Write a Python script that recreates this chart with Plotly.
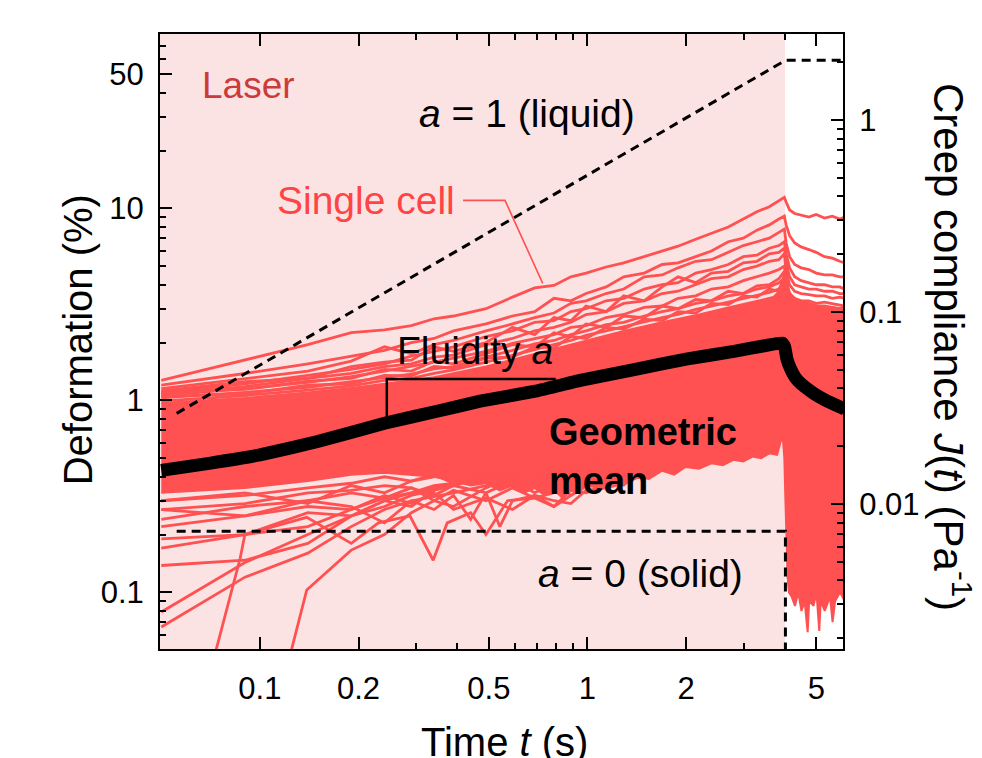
import plotly.graph_objects as go

# ---------------- data ----------------
# common time grid for the upper single-cell traces (s)
cell_t = [0.05, 0.09, 0.14, 0.19, 0.24, 0.29, 0.34, 0.39, 0.49, 0.59, 0.69, 0.79, 0.89, 0.99,
          1.14, 1.29, 1.49, 1.69, 1.89, 2.14, 2.39, 2.69, 2.99, 3.29, 3.59, 3.84, 3.99, 4.04,
          4.14, 4.29, 4.49, 4.74, 4.99, 5.29, 5.59, 5.89, 6.09]
cell_a = [1.27, 1.62, 1.95, 2.25, 2.33, 2.45, 2.66, 2.75, 3.0, 3.45, 3.85, 3.97, 4.4, 4.6,
          4.95, 5.2, 5.6, 6.0, 6.35, 6.9, 7.4, 8.0, 8.8, 9.6, 10.2, 11.0, 11.4, 10.8,
          9.8, 9.4, 9.2, 9.0, 9.3, 8.9, 9.1, 8.8, 9.0]
cell_b = [1.2, 1.38, 1.55, 1.7, 1.82, 2.0, 2.1, 2.3, 2.5, 2.75, 2.9, 3.4, 3.3, 3.6,
          3.9, 4.4, 4.6, 5.1, 5.2, 5.6, 6.0, 6.7, 7.0, 7.7, 8.2, 8.8, 9.1, 8.2,
          7.2, 6.6, 6.3, 6.1, 5.9, 5.6, 5.5, 5.3, 5.2]
cell_c = [1.15, 1.3, 1.42, 1.6, 1.9, 1.75, 1.95, 2.05, 2.3, 2.5, 2.7, 2.85, 3.2, 3.3,
          3.6, 3.8, 4.4, 4.5, 4.9, 5.3, 5.4, 5.9, 6.4, 6.7, 7.0, 7.5, 7.8, 6.6,
          5.6, 5.1, 4.9, 4.8, 4.6, 4.5, 4.5, 4.4, 4.4]
cell_d = [1.1, 1.22, 1.35, 1.45, 1.55, 1.7, 1.8, 1.9, 2.15, 2.3, 2.55, 2.6, 2.9, 3.0,
          3.3, 3.4, 3.8, 4.0, 4.1, 4.6, 4.8, 5.1, 5.6, 5.7, 6.2, 6.4, 6.7, 5.8,
          4.9, 4.4, 4.2, 4.1, 4.0, 4.0, 3.9, 3.9, 3.8]
cell_e = [1.08, 1.18, 1.3, 1.38, 1.5, 1.55, 1.68, 1.72, 1.95, 2.1, 2.3, 2.4, 2.55, 2.8,
          2.9, 3.2, 3.3, 3.6, 3.7, 4.0, 4.3, 4.4, 4.8, 5.0, 5.3, 5.4, 5.8, 4.7,
          4.0, 3.7, 3.6, 3.55, 3.5, 3.5, 3.4, 3.45, 3.4]
cell_f = [1.06, 1.15, 1.24, 1.33, 1.42, 1.5, 1.58, 1.66, 1.8, 1.98, 2.1, 2.2, 2.4, 2.45,
          2.7, 2.8, 3.05, 3.1, 3.4, 3.5, 3.8, 3.9, 4.2, 4.4, 4.6, 4.8, 5.0, 4.2,
          3.6, 3.4, 3.3, 3.3, 3.2, 3.25, 3.2, 3.15, 3.1]
cell_g = [1.12, 1.25, 1.3, 1.5, 1.58, 1.62, 1.9, 1.8, 2.0, 2.4, 2.2, 2.7, 2.6, 3.1,
          2.9, 3.5, 3.3, 3.9, 4.4, 4.1, 4.6, 4.7, 5.2, 5.3, 5.8, 5.9, 6.2, 5.2,
          4.4, 4.0, 3.9, 3.8, 3.8, 3.7, 3.7, 3.6, 3.6]
# cells running along the top edge of the dense bundle
cell_h = [1.03, 1.1, 1.17, 1.25, 1.32, 1.37, 1.46, 1.5, 1.68, 1.82, 1.97, 2.05, 2.2, 2.3,
          2.48, 2.55, 2.75, 2.9, 3.0, 3.2, 3.3, 3.5, 3.6, 3.8, 3.9, 4.1, 4.3, 3.9,
          3.4, 3.2, 3.15, 3.1, 3.1, 3.05, 3.0, 3.0, 3.0]
cell_i = [1.1, 1.14, 1.26, 1.3, 1.45, 1.42, 1.6, 1.55, 1.75, 1.95, 1.9, 2.25, 2.15, 2.5,
          2.4, 2.75, 2.7, 3.1, 3.0, 3.35, 3.3, 3.7, 3.6, 3.95, 4.0, 4.3, 4.7, 4.1,
          3.6, 3.3, 3.2, 3.2, 3.1, 3.1, 3.05, 3.0, 3.0]
cell_j = [0.99, 1.06, 1.13, 1.19, 1.27, 1.3, 1.38, 1.44, 1.58, 1.72, 1.84, 1.95, 2.05, 2.18,
          2.3, 2.42, 2.55, 2.7, 2.8, 2.98, 3.1, 3.25, 3.4, 3.55, 3.65, 3.8, 4.2, 3.7,
          3.3, 3.1, 3.0, 3.0, 2.95, 2.95, 2.9, 2.9, 2.9]
cell_k = [1.05, 1.08, 1.2, 1.22, 1.35, 1.34, 1.5, 1.47, 1.66, 1.68, 1.9, 1.88, 2.15, 2.1,
          2.4, 2.35, 2.65, 2.6, 2.9, 2.85, 3.2, 3.15, 3.5, 3.45, 3.8, 3.7, 4.5, 3.8,
          3.4, 3.2, 3.1, 3.1, 3.0, 3.0, 3.0, 2.95, 2.95]

# cells running along the lower edge of the bundle (early times)
edge_t = [0.05, 0.09, 0.14, 0.19, 0.24, 0.29, 0.34, 0.39, 0.49, 0.59, 0.69, 0.79, 0.89,
          0.99, 1.14, 1.29, 1.49]
edge_1 = [0.3, 0.32, 0.35, 0.37, 0.4, 0.38, 0.41, 0.37, 0.42, 0.36, 0.4, 0.35, 0.38,
          0.37, 0.4, 0.38, 0.42]
edge_2 = [0.27, 0.29, 0.33, 0.34, 0.36, 0.35, 0.32, 0.36, 0.33, 0.38, 0.33, 0.37, 0.32,
          0.36, 0.37, 0.4, 0.41]
edge_3 = [0.24, 0.28, 0.3, 0.33, 0.31, 0.35, 0.3, 0.34, 0.3, 0.35, 0.31, 0.28, 0.34,
          0.33, 0.36, 0.39, 0.4]
edge_4 = [0.22, 0.25, 0.28, 0.27, 0.32, 0.29, 0.33, 0.27, 0.31, 0.27, 0.32, 0.3, 0.29,
          0.34, 0.35, 0.37, 0.41]

# lower single-cell traces (own time points)
low1_t = [0.05, 0.09, 0.14, 0.19, 0.24, 0.29, 0.34, 0.44, 0.54, 0.69, 0.89, 1.19]
low1_v = [0.079, 0.143, 0.2, 0.25, 0.3, 0.33, 0.35, 0.38, 0.41, 0.44, 0.46, 0.5]
low2_t = [0.05, 0.09, 0.14, 0.19, 0.24, 0.29, 0.39, 0.49, 0.59, 0.79, 0.99]
low2_v = [0.066, 0.12, 0.16, 0.22, 0.27, 0.3, 0.33, 0.36, 0.38, 0.41, 0.44]
low3_t = [0.073, 0.087, 0.09, 0.14, 0.19, 0.24, 0.29, 0.34, 0.44, 0.54]
low3_v = [0.048, 0.15, 0.2, 0.22, 0.27, 0.31, 0.33, 0.36, 0.38, 0.42]
low4_t = [0.124, 0.139, 0.19, 0.24, 0.29, 0.34, 0.39, 0.49, 0.59]
low4_v = [0.048, 0.103, 0.166, 0.2, 0.26, 0.3, 0.28, 0.35, 0.4]
low5_t = [0.05, 0.09, 0.14, 0.19, 0.24, 0.29, 0.39, 0.49]
low5_v = [0.138, 0.147, 0.18, 0.25, 0.28, 0.32, 0.36, 0.4]
low6_t = [0.05, 0.09, 0.14, 0.19, 0.24, 0.29, 0.34, 0.39]
low6_v = [0.19, 0.2, 0.26, 0.25, 0.3, 0.28, 0.34, 0.37]
low7_t = [0.05, 0.09, 0.139, 0.19, 0.23, 0.287, 0.338, 0.373, 0.44, 0.49, 0.57, 0.69, 0.89, 1.09]
low7_v = [0.17, 0.2, 0.246, 0.18, 0.23, 0.25, 0.147, 0.23, 0.26, 0.2, 0.3, 0.31, 0.35, 0.38]
low8_t = [0.05, 0.09, 0.14, 0.19, 0.24, 0.29, 0.34, 0.39, 0.44, 0.49, 0.54, 0.59, 0.69, 0.79, 0.99]
low8_v = [0.27, 0.25, 0.3, 0.28, 0.23, 0.3, 0.27, 0.32, 0.24, 0.33, 0.22, 0.3, 0.32, 0.28, 0.36]
low9_t = [0.05, 0.09, 0.14, 0.19, 0.24, 0.29, 0.34]
low9_v = [0.3, 0.33, 0.29, 0.36, 0.33, 0.38, 0.4]

# dense bundle of single-cell curves (envelope)
core_top_t = [0.05, 0.09, 0.14, 0.19, 0.24, 0.34, 0.49, 0.69, 0.99, 1.29, 1.69, 2.19, 2.69,
              3.19, 3.69, 3.94, 4.02, 4.1, 4.4, 5.0, 6.1]
core_top_v = [0.97, 1.03, 1.1, 1.16, 1.22, 1.32, 1.5, 1.74, 2.05, 2.3, 2.55, 2.8, 3.05,
              3.25, 3.45, 3.85, 4.6, 3.4, 3.2, 3.1, 3.0]
core_bot_t = [0.05, 0.09, 0.14, 0.19, 0.24, 0.29, 0.34, 0.39, 0.44, 0.49, 0.54, 0.59, 0.64,
              0.69, 0.74, 0.79, 0.84, 0.89, 0.94, 0.99, 1.09, 1.19, 1.29, 1.39, 1.54, 1.69,
              1.84, 1.99, 2.19, 2.39, 2.59, 2.79, 2.99, 3.19, 3.39, 3.59, 3.79, 3.94, 3.99,
              4.02, 4.05, 4.08, 4.12, 4.2, 4.3, 4.4, 4.5, 4.6, 4.7, 4.75, 4.9, 5.0, 5.1,
              5.15, 5.3, 5.5, 5.6, 5.7, 5.9, 6.1]
core_bot_v = [0.33, 0.35, 0.38, 0.41, 0.42, 0.41, 0.40, 0.38, 0.36, 0.37, 0.34, 0.36, 0.33,
              0.35, 0.32, 0.34, 0.31, 0.34, 0.33, 0.36, 0.35, 0.38, 0.36, 0.40, 0.39, 0.43,
              0.41, 0.45, 0.44, 0.47, 0.46, 0.49, 0.48, 0.51, 0.50, 0.53, 0.52, 0.66, 0.5,
              0.3, 0.17, 0.12, 0.1, 0.095, 0.085, 0.1, 0.08, 0.09, 0.062, 0.09, 0.085, 0.1,
              0.063, 0.09, 0.08, 0.095, 0.07, 0.09, 0.1, 0.09]

# geometric mean
mean_t = [0.05, 0.07, 0.1, 0.15, 0.24, 0.35, 0.47, 0.7, 0.95, 1.4, 2.0, 2.8, 3.5, 3.93,
          4.0, 4.06, 4.16, 4.3, 4.46, 4.89, 5.33, 6.1]
mean_v = [0.432, 0.47, 0.52, 0.61, 0.76, 0.88, 0.99, 1.12, 1.27, 1.45, 1.64, 1.8, 1.93, 1.99,
          1.9, 1.65, 1.47, 1.32, 1.23, 1.09, 1.0, 0.9]

# model limits
liquid_t = [0.0557, 4.02, 6.1]
liquid_v = [0.855, 59.0, 59.0]
solid_t = [0.0557, 4.02, 4.02]
solid_v = [0.208, 0.208, 0.04]

# callout guides
pointer_t = [0.417, 0.56, 0.73]
pointer_v = [11.0, 11.0, 4.07]
bracket_t = [0.244, 0.244, 0.8]
bracket_v = [0.81, 1.29, 1.29]

x_ticks = [0.1, 0.2, 0.5, 1, 2, 5]
x_minor = [0.3, 0.4, 0.6, 0.7, 0.8, 0.9, 3, 4]
y_ticks = [0.1, 1, 10, 50]
y_minor = [0.06, 0.07, 0.08, 0.09, 0.2, 0.3, 0.4, 0.5, 0.6, 0.7, 0.8, 0.9,
           2, 3, 4, 5, 6, 7, 8, 9, 20, 30, 40, 60, 70, 80]
j_ticks = [0.01, 0.1, 1]
j_minor = [0.002, 0.003, 0.004, 0.005, 0.006, 0.007, 0.008, 0.009,
           0.02, 0.03, 0.04, 0.05, 0.06, 0.07, 0.08, 0.09,
           0.2, 0.3, 0.4, 0.5, 0.6, 0.7, 0.8, 0.9, 2]

# ---------------- styles ----------------
RED = "#ff5151"
PINK = "#fce3e3"
FONT = "Liberation Sans, Arial, Helvetica, sans-serif"
CELL_LINE = dict(color=RED, width=2.8)

fig = go.Figure()

# dense bundle
fig.add_trace(go.Scatter(
    x=core_top_t + core_bot_t[::-1], y=core_top_v + core_bot_v[::-1],
    fill="toself", fillcolor=RED, mode="lines",
    line=dict(color=RED, width=2), hoverinfo="skip"))

for vals in [cell_h, cell_i, cell_j, cell_k,
             cell_a, cell_b, cell_c, cell_d, cell_e, cell_f, cell_g]:
    fig.add_trace(go.Scatter(x=cell_t, y=vals, mode="lines",
                             line=CELL_LINE, hoverinfo="skip"))

for vals in [edge_1, edge_2, edge_3, edge_4]:
    fig.add_trace(go.Scatter(x=edge_t, y=vals, mode="lines",
                             line=CELL_LINE, hoverinfo="skip"))

for tt, vv in [(low1_t, low1_v), (low2_t, low2_v), (low3_t, low3_v), (low4_t, low4_v),
               (low5_t, low5_v), (low6_t, low6_v), (low7_t, low7_v), (low8_t, low8_v),
               (low9_t, low9_v)]:
    fig.add_trace(go.Scatter(x=tt, y=vv, mode="lines",
                             line=CELL_LINE, hoverinfo="skip"))

# model limit lines
for tt, vv in [(liquid_t, liquid_v), (solid_t, solid_v)]:
    fig.add_trace(go.Scatter(x=tt, y=vv, mode="lines",
                             line=dict(color="black", width=3, dash="9px,6px"),
                             hoverinfo="skip"))

# callouts
fig.add_trace(go.Scatter(x=pointer_t, y=pointer_v, mode="lines",
                         line=dict(color=RED, width=1.6), hoverinfo="skip"))
fig.add_trace(go.Scatter(x=bracket_t, y=bracket_v, mode="lines",
                         line=dict(color="black", width=2.5), hoverinfo="skip"))

# geometric mean
fig.add_trace(go.Scatter(x=mean_t, y=mean_v, mode="lines",
                         line=dict(color="black", width=13, shape="spline", smoothing=0.3),
                         hoverinfo="skip"))

# invisible trace anchoring the compliance axis
fig.add_trace(go.Scatter(x=[1], y=[0.1], yaxis="y2", mode="markers",
                         marker=dict(opacity=0), hoverinfo="skip"))

# laser-on region
fig.add_shape(type="rect", xref="paper", yref="paper", x0=0, x1=0.915, y0=0, y1=1,
              fillcolor=PINK, line=dict(width=0), layer="below")

axis_common = dict(type="log", showgrid=False, zeroline=False, showline=True,
                   linecolor="black", linewidth=2, ticks="inside", ticklen=12,
                   tickwidth=2, tickcolor="black", automargin=False,
                   tickfont=dict(family=FONT, size=31, color="black"))

# the page body adds an 8 px offset, so the figure is 8 px smaller than the window
fig.update_layout(
    width=974, height=750,
    margin=dict(l=152, r=139, t=26, b=109),
    paper_bgcolor="white", plot_bgcolor="white",
    showlegend=False,
    font=dict(family=FONT, color="black"),
    xaxis=dict(**axis_common, range=[-1.305, 0.780], mirror="ticks",
               tickmode="array", tickvals=x_ticks, ticktext=[str(v) for v in x_ticks],
               ticklabelstandoff=11,
               minor=dict(tickmode="array", tickvals=x_minor, ticks="inside",
                          ticklen=6, tickwidth=2, tickcolor="black")),
    yaxis=dict(**axis_common, range=[-1.295, 1.908], mirror=False,
               tickmode="array", tickvals=y_ticks, ticktext=[str(v) for v in y_ticks],
               ticklabelstandoff=8,
               minor=dict(tickmode="array", tickvals=y_minor, ticks="inside",
                          ticklen=6, tickwidth=2, tickcolor="black")),
    yaxis2=dict(**axis_common, range=[-2.755, 0.448], overlaying="y", side="right",
                tickmode="array", tickvals=j_ticks, ticktext=[str(v) for v in j_ticks],
                ticklabelstandoff=8,
                minor=dict(tickmode="array", tickvals=j_minor, ticks="inside",
                           ticklen=6, tickwidth=2, tickcolor="black")),
)

def note(text, x, y, size, color="black", xanchor="left", angle=0):
    fig.add_annotation(text=text, x=x, y=y, xref="paper", yref="paper",
                       xanchor=xanchor, yanchor="middle", showarrow=False,
                       textangle=angle, align="left",
                       font=dict(family=FONT, size=size, color=color))

note("Laser", 0.0586, 0.917, 37, color="#cc3b3b")
note("<i>a</i> = 1 (liquid)", 0.376, 0.8715, 39)
note("Single cell", 0.4348, 0.730, 39, color="#ff4444", xanchor="right")
note("Fluidity <i>a</i>", 0.344, 0.486, 39)
note("<b>Geometric<br>mean</b>", 0.5666, 0.313, 38)
note("<i>a</i> = 0 (solid)", 0.5505, 0.122, 39)
note("Deformation (%)", -0.12, 0.502, 40, angle=-90, xanchor="center")
note("Time <i>t</i> (s)", 0.505, -0.151, 40, xanchor="center")
note("Creep compliance <i>J</i>(<i>t</i>) (Pa<sup>-1</sup>)", 1.1596, 0.491, 42,
     angle=90, xanchor="center")

fig.write_html("out.html")
